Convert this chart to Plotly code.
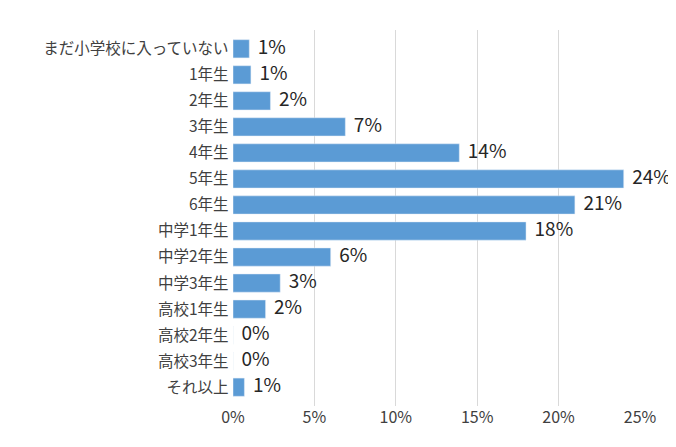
import plotly.graph_objects as go

categories = ["まだ小学校に入っていない","1年生","2年生","3年生","4年生","5年生","6年生",
              "中学1年生","中学2年生","中学3年生","高校1年生","高校2年生","高校3年生","それ以上"]
values = [0.010,0.011,0.023,0.069,0.139,0.240,0.210,0.180,0.060,0.029,0.020,0.0,0.0,0.007]
labels = ["1%","1%","2%","7%","14%","24%","21%","18%","6%","3%","2%","0%","0%","1%"]
tickvals = [0,0.05,0.10,0.15,0.20,0.25]
ticktext = ["0%","5%","10%","15%","20%","25%"]

fig = go.Figure()
fig.add_trace(go.Bar(y=categories, x=values, orientation="h", marker_color="#5B9BD5"))
fig.add_trace(go.Scatter(y=categories, x=values, mode="text", text=["  " + t for t in labels],
                         textposition="middle right", cliponaxis=False,
                         textfont=dict(size=19, color="#262626")))
fig.update_layout(
    width=676, height=447, margin=dict(l=225, r=44, t=22, b=49),
    plot_bgcolor="white", paper_bgcolor="white", bargap=0.3, showlegend=False,
    font=dict(family="Noto Sans CJK JP", color="#404040", size=15),
    xaxis=dict(range=[0,0.25], tickvals=tickvals, ticktext=ticktext, showgrid=True,
               gridcolor="#D9D9D9", gridwidth=1, zeroline=False, ticks="", tickfont=dict(size=16),
               automargin=False),
    yaxis=dict(autorange="reversed", ticks="", showline=False, ticksuffix=" ",
               automargin=False, tickfont=dict(size=15.5)),
)
fig.write_html("out.html")
